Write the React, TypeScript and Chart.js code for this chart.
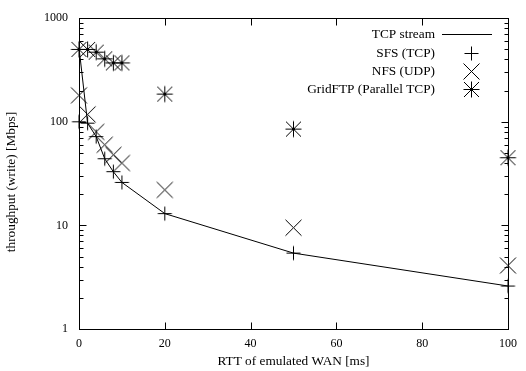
import React, { useEffect, useRef } from "react";
import { Chart, registerables } from "chart.js";

Chart.register(...registerables);

const rttMs = [0, 2, 4, 6, 8, 10, 20, 50, 100];
const tcpStream = [520, 97, 72, 44, 33, 26, 13, 5.4, 2.6];
const sfsTcp = [100, 97, 72, 44, 33, 26, 13, 5.4, 2.6];
const nfsUdp = [180, 118, 80, 60, 48, 40, 22, 9.5, 4.1];
const gridFtp = [500, 500, 470, 405, 370, 370, 185, 85, 45];
const yTickValues = [1, 10, 100, 1000];
const legendLabels = ["TCP stream", "SFS (TCP)", "NFS (UDP)", "GridFTP (Parallel TCP)"];
const xTitle = "RTT of emulated WAN [ms]";
const yTitle = "throughput (write) [Mbps]";

const FONT = "Liberation Serif, Times New Roman, serif";
const TEXT_SIZE = 13.3;

type Kind = "plus" | "x" | "star";

function drawMarker(ctx: CanvasRenderingContext2D, kind: Kind, cx: number, cy: number) {
  ctx.lineWidth = 1;
  ctx.beginPath();
  if (kind === "plus" || kind === "star") {
    const h = kind === "plus" ? 7 : 8;
    ctx.moveTo(cx - h, cy); ctx.lineTo(cx + h, cy);
    ctx.moveTo(cx, cy - h); ctx.lineTo(cx, cy + h);
  }
  if (kind === "x" || kind === "star") {
    const h = kind === "x" ? 8 : 7.5;
    ctx.moveTo(cx - h, cy - h); ctx.lineTo(cx + h, cy + h);
    ctx.moveTo(cx - h, cy + h); ctx.lineTo(cx + h, cy - h);
  }
  ctx.stroke();
}

function makeMarker(kind: Kind): HTMLCanvasElement {
  const c = document.createElement("canvas");
  c.width = 19;
  c.height = 19;
  const ctx = c.getContext("2d")!;
  ctx.strokeStyle = "#000";
  drawMarker(ctx, kind, 9.5, 9.5);
  return c;
}

function pts(ys: number[]) {
  return rttMs.map((x, i) => ({ x, y: ys[i] }));
}

const framePlugin = {
  id: "gnuplotFrame",
  afterDraw(chart: any) {
    const ctx = chart.ctx;
    const a = chart.chartArea;
    const xs = chart.scales.x;
    const ys = chart.scales.y;
    ctx.save();
    ctx.strokeStyle = "#000";
    ctx.lineWidth = 1;
    const L = Math.round(a.left) + 0.5;
    const R = Math.round(a.right) + 0.5;
    const T = Math.round(a.top) + 0.5;
    const B = Math.round(a.bottom) + 0.5;
    ctx.strokeRect(L, T, R - L, B - T);
    ctx.beginPath();
    for (let v = 0; v <= 100; v += 20) {
      const px = Math.round(xs.getPixelForValue(v)) + 0.5;
      ctx.moveTo(px, B); ctx.lineTo(px, B - 7);
      ctx.moveTo(px, T); ctx.lineTo(px, T + 7);
    }
    for (let d = 1; d <= 1000; d *= 10) {
      for (let m = 1; m <= 9; m++) {
        const v = d * m;
        if (v > 1000) break;
        const py = Math.round(ys.getPixelForValue(v)) + 0.5;
        const len = m === 1 ? 7 : 4;
        ctx.moveTo(L, py); ctx.lineTo(L + len, py);
        ctx.moveTo(R, py); ctx.lineTo(R - len, py);
      }
    }
    ctx.stroke();

    ctx.fillStyle = "#000";
    ctx.font = TEXT_SIZE + "px " + FONT;

    // y axis title
    ctx.save();
    ctx.translate(12, 182);
    ctx.rotate(-Math.PI / 2);
    ctx.textAlign = "center";
    ctx.textBaseline = "middle";
    ctx.fillText(yTitle, 0, 0);
    ctx.restore();

    // legend
    const textRight = 435;
    const symX = 471.5;
    const rows = [34.5, 53.5, 71.5, 89.5];
    ctx.textAlign = "right";
    ctx.textBaseline = "middle";
    legendLabels.forEach((t, i) => ctx.fillText(t, textRight, rows[i]));
    ctx.beginPath();
    ctx.moveTo(442, rows[0]); ctx.lineTo(492, rows[0]);
    ctx.stroke();
    drawMarker(ctx, "plus", symX, rows[1]);
    drawMarker(ctx, "x", symX, rows[2]);
    drawMarker(ctx, "star", symX, rows[3]);
    ctx.restore();
  },
};

export default function App() {
  const ref = useRef<HTMLCanvasElement | null>(null);
  useEffect(() => {
    if (!ref.current) return;
    const common = {
      showLine: false,
      borderColor: "#000",
      backgroundColor: "rgba(0,0,0,0)",
      borderWidth: 1,
      pointRadius: 8,
      clip: false as any,
    };
    const chart = new Chart(ref.current, {
      type: "scatter",
      data: {
        datasets: [
          {
            label: legendLabels[0],
            data: pts(tcpStream),
            showLine: true,
            borderColor: "#000",
            borderWidth: 1,
            pointRadius: 0,
            clip: false as any,
          },
          { ...common, label: legendLabels[1], data: pts(sfsTcp), pointStyle: makeMarker("plus") as any },
          { ...common, label: legendLabels[2], data: pts(nfsUdp), pointStyle: makeMarker("x") as any },
          { ...common, label: legendLabels[3], data: pts(gridFtp), pointStyle: makeMarker("star") as any },
        ],
      },
      options: {
        animation: false,
        responsive: false,
        layout: { padding: { left: 0, right: 18, top: 15, bottom: 0 } },
        plugins: { legend: { display: false }, tooltip: { enabled: false } },
        scales: {
          x: {
            type: "linear",
            min: 0,
            max: 100,
            grid: { display: false, drawTicks: false },
            border: { display: false },
            ticks: { stepSize: 20, color: "#000", font: { family: FONT, size: 12 }, padding: 8 },
            title: {
              display: true,
              text: xTitle,
              color: "#000",
              font: { family: FONT, size: TEXT_SIZE },
              padding: { top: 2, bottom: 2 },
            },
            afterFit: (s: any) => { s.height = 42; },
          },
          y: {
            type: "logarithmic",
            min: 1,
            max: 1000,
            grid: { display: false, drawTicks: false },
            border: { display: false },
            afterBuildTicks: (s: any) => { s.ticks = yTickValues.map((v) => ({ value: v })); },
            ticks: {
              color: "#000",
              font: { family: FONT, size: 12 },
              padding: 11,
              callback: (v: any) => String(v),
            },
            title: { display: false, text: yTitle },
            afterFit: (s: any) => { s.width = 79; },
          },
        },
      },
      plugins: [framePlugin],
    });
    return () => chart.destroy();
  }, []);
  return (
    <div style={{ position: "fixed", left: 0, top: 0, width: 526, height: 371, background: "#fff" }}>
      <canvas ref={ref} width={526} height={371} />
    </div>
  );
}
